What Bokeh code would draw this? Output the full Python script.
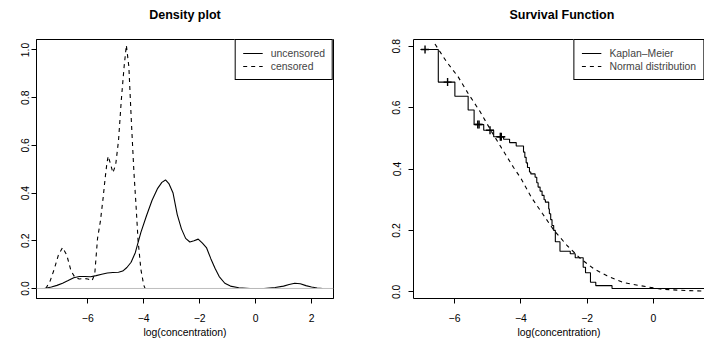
from bokeh.plotting import figure
from bokeh.layouts import row, column
from bokeh.models import Range1d, FixedTicker, Span, Legend, LegendItem, LinearAxis
from bokeh.core.properties import value
from bokeh.embed import file_html
from bokeh.resources import INLINE

FONT = "Liberation Sans"

# ---------------- data: density plot ----------------
dens_title = "Density plot"
unc_x = [-7.55, -7.3, -7.1, -6.9, -6.7, -6.5, -6.3, -6.1, -5.9, -5.7, -5.5, -5.3, -5.1, -4.9,
         -4.75, -4.6, -4.45, -4.3, -4.1, -3.9, -3.7, -3.5, -3.35, -3.22, -3.1, -2.95, -2.8,
         -2.65, -2.5, -2.35, -2.2, -2.05, -1.9, -1.75, -1.6, -1.45, -1.3, -1.1, -0.9, -0.6,
         -0.2, 0.3, 0.7, 1.0, 1.2, 1.4, 1.6, 1.8, 2.0, 2.2, 2.4]
unc_y = [0.0, 0.006, 0.013, 0.022, 0.033, 0.045, 0.05, 0.05, 0.049, 0.054, 0.06, 0.065, 0.067,
         0.068, 0.073, 0.088, 0.11, 0.15, 0.235, 0.305, 0.37, 0.42, 0.445, 0.455, 0.44, 0.40,
         0.31, 0.25, 0.21, 0.195, 0.2, 0.207, 0.19, 0.17, 0.125, 0.085, 0.05, 0.022, 0.01,
         0.003, 0.0, 0.0, 0.004, 0.01, 0.017, 0.022, 0.02, 0.012, 0.006, 0.002, 0.0]
cen_x = [-7.5, -7.35, -7.2, -7.05, -6.9, -6.75, -6.6, -6.45, -6.3, -6.15, -6.0, -5.85, -5.75,
         -5.65, -5.55, -5.45, -5.38, -5.32, -5.27, -5.18, -5.1, -5.0, -4.9, -4.8, -4.7, -4.62,
         -4.53, -4.44, -4.35, -4.28, -4.2, -4.1, -4.0, -3.95]
cen_y = [0.0, 0.03, 0.08, 0.14, 0.172, 0.14, 0.075, 0.045, 0.04, 0.042, 0.04, 0.032, 0.06,
         0.21, 0.28, 0.38, 0.46, 0.52, 0.555, 0.52, 0.485, 0.52, 0.62, 0.79, 0.93, 1.02,
         0.93, 0.70, 0.49, 0.36, 0.2, 0.08, 0.015, 0.0]
dens_xticks = [-6, -4, -2, 0, 2]
dens_xlabels = ["\u22126", "\u22124", "\u22122", "0", "2"]
dens_yticks = [0.0, 0.2, 0.4, 0.6, 0.8, 1.0]
dens_ylabels = ["0.0", "0.2", "0.4", "0.6", "0.8", "1.0"]

# ---------------- data: survival function ----------------
surv_title = "Survival Function"
km_x = [-7.03, -6.49, -5.99, -5.59, -5.41, -5.12, -4.82, -4.52, -4.34, -4.14, -3.92, -3.88,
        -3.84, -3.80, -3.74, -3.70, -3.57, -3.52, -3.48, -3.42, -3.36, -3.30, -3.26, -3.16,
        -3.14, -3.10, -3.06, -3.01, -2.96, -2.82, -2.51, -2.36, -2.12, -2.05, -1.90, -1.74,
        -1.25, 1.6]
km_y = [0.789, 0.683, 0.637, 0.592, 0.545, 0.526, 0.505, 0.497, 0.486, 0.475, 0.455, 0.438,
        0.42, 0.405, 0.39, 0.384, 0.373, 0.355, 0.341, 0.328, 0.314, 0.300, 0.292, 0.270,
        0.254, 0.235, 0.216, 0.200, 0.163, 0.132, 0.124, 0.111, 0.080, 0.062, 0.031, 0.020,
        0.011, 0.011]
cens_x = [-6.89, -6.21, -5.30, -5.26, -4.93, -4.62, -4.59]
cens_y = [0.789, 0.683, 0.545, 0.545, 0.526, 0.505, 0.505]
norm_x = [-6.59, -6.24, -5.89, -5.59, -5.23, -4.88, -4.58, -4.22, -4.0, -3.68, -3.35, -3.0,
          -2.6, -2.2, -1.8, -1.4, -0.9, -0.4, 0.2, 0.8, 1.6]
norm_y = [0.807, 0.749, 0.700, 0.646, 0.587, 0.521, 0.468, 0.405, 0.37, 0.307, 0.255, 0.20,
          0.15, 0.108, 0.075, 0.052, 0.03, 0.02, 0.009, 0.005, 0.002]
surv_xticks = [-6, -4, -2, 0]
surv_xlabels = ["\u22126", "\u22124", "\u22122", "0"]
surv_yticks = [0.0, 0.2, 0.4, 0.6, 0.8]
surv_ylabels = ["0.0", "0.2", "0.4", "0.6", "0.8"]

TITLE_H = 28
H = 354 - TITLE_H


def style_axis(ax, ticks, labels, standoff):
    ax.ticker = FixedTicker(ticks=ticks)
    ax.major_label_overrides = {t: l for t, l in zip(ticks, labels)}
    ax.axis_line_color = "black"
    ax.major_tick_line_color = "black"
    ax.major_tick_in = 0
    ax.major_tick_out = 5
    ax.minor_tick_line_color = None
    ax.major_label_text_font = FONT
    ax.major_label_text_font_size = "10.4px"
    ax.major_label_text_color = "black"
    ax.major_label_standoff = standoff
    ax.axis_label_text_font = FONT
    ax.axis_label_text_font_size = "10.4px"
    ax.axis_label_text_font_style = "normal"
    ax.axis_label_text_color = "black"


def make_fig(width, xr, yr, mbl, mbr):
    p = figure(width=width, height=H, x_range=Range1d(*xr), y_range=Range1d(*yr),
               output_backend="svg", toolbar_location=None,
               min_border_left=mbl, min_border_right=mbr, min_border_top=39 - TITLE_H,
               min_border_bottom=56)
    p.grid.visible = False
    p.background_fill_color = "white"
    p.border_fill_color = "white"
    p.xaxis.axis_label = "log(concentration)"
    p.xaxis.axis_label_standoff = 2
    p.yaxis.major_label_orientation = "vertical"
    return p


def make_title(width, text, mbl, mbr, xpos):
    t = figure(width=width, height=TITLE_H, x_range=Range1d(0, 1), y_range=Range1d(0, 1),
               output_backend="svg", toolbar_location=None,
               x_axis_location=None, y_axis_location=None,
               min_border_left=mbl, min_border_right=mbr, min_border_top=0,
               min_border_bottom=0)
    t.grid.visible = False
    t.outline_line_color = None
    t.background_fill_color = "white"
    t.border_fill_color = "white"
    t.text(x=[xpos], y=[0.5], text=[text], text_align="center", text_baseline="middle",
           text_font=value(FONT), text_font_size="12.5px", text_font_style="bold",
           text_color="black")
    return t


# ---------------- left: density plot ----------------
p1 = make_fig(352, (-7.832, 2.786), (-0.042, 1.044), 36, 19)
style_axis(p1.xaxis[0], dens_xticks, dens_xlabels, 10)
style_axis(p1.yaxis[0], dens_yticks, dens_ylabels, 2)
p1.outline_line_color = "black"
p1.outline_line_alpha = 1
p1.add_layout(Span(location=0, dimension="width", line_color="#bebebe", line_width=1))
r_unc = p1.line(unc_x, unc_y, line_color="black", line_width=1.1)
r_cen = p1.line(cen_x, cen_y, line_color="black", line_width=1.1, line_dash="4 4")
leg1 = Legend(items=[LegendItem(label="uncensored", renderers=[r_unc]),
                     LegendItem(label="censored", renderers=[r_cen])],
              location="top_right")
p1.add_layout(leg1)
t1 = make_title(352, dens_title, 36, 19, 0.5)

# ---------------- right: survival function ----------------
p2 = make_fig(352, (-7.238, 1.539), (-0.0218, 0.8218), 61, 0)
style_axis(p2.xaxis[0], surv_xticks, surv_xlabels, 10)
style_axis(p2.yaxis[0], surv_yticks, surv_ylabels, 8)
p2.outline_line_color = None
top_ax = LinearAxis(ticker=FixedTicker(ticks=[]), axis_line_color="black",
                    major_tick_line_color=None, minor_tick_line_color=None,
                    major_tick_out=0, major_label_standoff=0,
                    major_label_text_font_size="0px")
p2.add_layout(top_ax, "above")
r_km = p2.step(km_x, km_y, mode="after", line_color="black", line_width=1.1)
p2.scatter(cens_x, cens_y, marker="cross", size=8, line_color="black", line_width=1.4)
r_norm = p2.line(norm_x, norm_y, line_color="black", line_width=1.1, line_dash="4 4")
leg2 = Legend(items=[LegendItem(label="Kaplan\u2013Meier", renderers=[r_km]),
                     LegendItem(label="Normal distribution", renderers=[r_norm])],
              location="top_right")
p2.add_layout(leg2)
# the original panel runs a little past the window edge; centre title on that panel
t2 = make_title(352, surv_title, 61, 0, 0.51)

for lg in (leg1, leg2):
    lg.margin = 0
    lg.padding = 7
    lg.spacing = 1
    lg.glyph_width = 20
    lg.glyph_height = 12
    lg.label_height = 12
    lg.label_standoff = 8
    lg.label_text_font = FONT
    lg.label_text_font_size = "10.4px"
    lg.border_line_color = "black"
    lg.border_line_width = 1
    lg.border_line_alpha = 1
    lg.background_fill_color = "white"
    lg.background_fill_alpha = 1

layout = column(row(t1, t2), row(p1, p2))
open("out.html", "w").write(file_html(layout, INLINE))
